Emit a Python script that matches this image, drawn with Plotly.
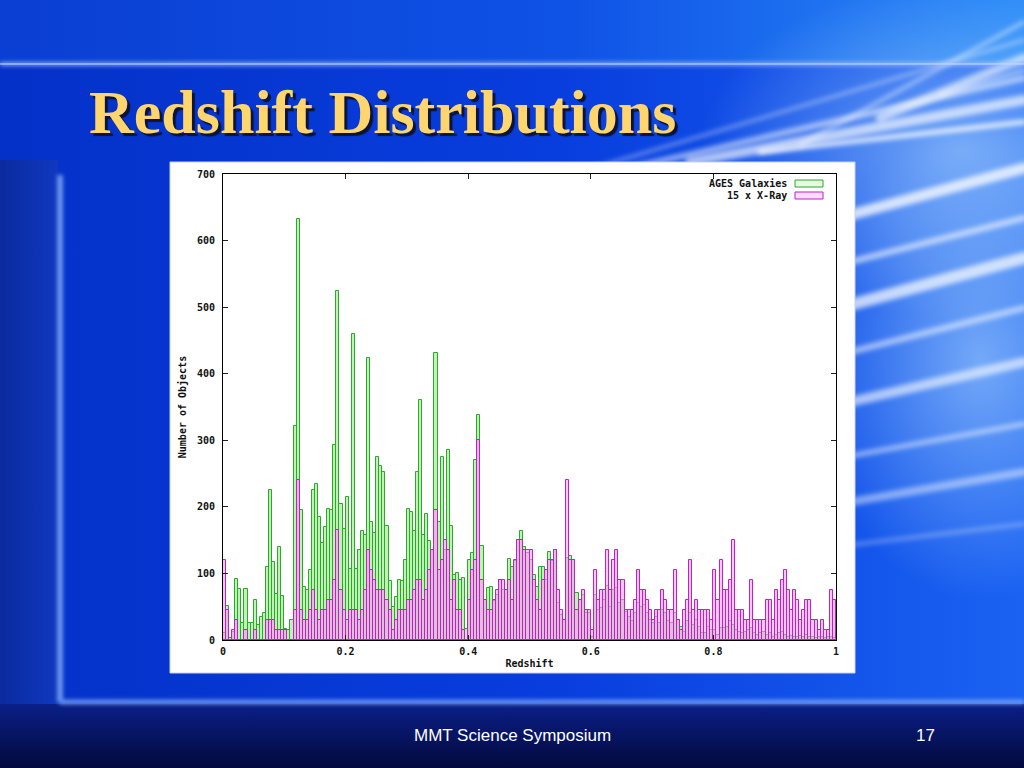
import base64
import plotly.graph_objects as go

# ---------------- data ----------------
BIN_WIDTH = 0.005

ages_galaxies = [
    10, 51, 3, 12, 91, 76, 25, 76, 25, 25,
    60, 23, 35, 41, 110, 226, 117, 69, 139, 66,
    17, 15, 30, 322, 632, 196, 80, 75, 105, 225,
    235, 185, 145, 170, 197, 195, 293, 525, 205, 166,
    215, 107, 460, 107, 135, 163, 158, 423, 178, 160,
    275, 262, 252, 172, 88, 50, 65, 90, 88, 120,
    197, 192, 163, 253, 360, 158, 189, 148, 135, 431,
    178, 275, 135, 286, 172, 98, 100, 90, 93, 17,
    120, 130, 270, 338, 141, 60, 78, 80, 58, 68,
    90, 75, 75, 121, 110, 118, 150, 163, 140, 130,
    120, 98, 80, 109, 109, 90, 132, 118, 135, 55,
    38, 30, 123, 126, 120, 70, 60, 68, 40, 40,
    5, 68, 45, 48, 60, 81, 50, 75, 78, 55,
    60, 42, 35, 28, 40, 55, 50, 52, 40, 30,
    25, 35, 25, 45, 40, 28, 25, 40, 30, 20,
    12, 28, 40, 22, 30, 20, 11, 10, 20, 15,
    15, 8, 18, 18, 20, 28, 22, 15, 12, 10,
    12, 15, 18, 10, 8, 10, 12, 8, 10, 5,
    8, 10, 12, 8, 5, 6, 4, 5, 6, 5,
    8, 4, 5, 3, 5, 4, 3, 5, 4, 3,
]

xray_x15 = [
    120, 45, 0, 15, 30, 0, 0, 15, 0, 0,
    15, 0, 0, 0, 30, 30, 30, 15, 15, 15,
    15, 0, 0, 45, 240, 45, 30, 30, 45, 75,
    45, 30, 45, 45, 60, 60, 90, 165, 75, 45,
    30, 45, 45, 45, 30, 45, 75, 135, 105, 90,
    75, 75, 75, 60, 45, 15, 30, 45, 45, 45,
    60, 60, 75, 90, 90, 60, 75, 105, 135, 195,
    105, 120, 150, 135, 60, 90, 45, 45, 15, 0,
    60, 105, 120, 300, 90, 60, 45, 45, 60, 75,
    90, 90, 75, 90, 60, 120, 150, 150, 135, 135,
    135, 90, 60, 45, 90, 105, 120, 120, 135, 75,
    45, 30, 240, 120, 120, 45, 60, 75, 45, 45,
    15, 105, 60, 75, 75, 135, 75, 120, 135, 90,
    90, 45, 45, 45, 60, 105, 75, 75, 60, 45,
    30, 45, 45, 75, 60, 45, 45, 105, 30, 15,
    45, 60, 120, 45, 60, 45, 45, 45, 45, 30,
    105, 60, 120, 75, 75, 90, 150, 45, 45, 45,
    30, 30, 90, 30, 30, 30, 30, 60, 60, 30,
    75, 60, 90, 105, 75, 45, 75, 60, 30, 45,
    60, 60, 30, 30, 15, 30, 15, 15, 75, 60,
]

x_tick_vals = [0, 0.2, 0.4, 0.6, 0.8, 1.0]
x_tick_text = ["0", "0.2", "0.4", "0.6", "0.8", "1"]
y_tick_vals = [0, 100, 200, 300, 400, 500, 600, 700]

series_names = ["AGES Galaxies", "15 x X-Ray"]
slide_title = "Redshift Distributions"
footer_text = "MMT Science Symposium"
slide_number = "17"

bin_left = [i * BIN_WIDTH for i in range(len(ages_galaxies))]

# ---------------- layout helpers ----------------
W, H = 1024, 768


def px(x):
    return x / W


def py(y):
    return 1 - y / H


# ---------------- slide background (SVG image) ----------------
streaks = [
    (560, 178, 1024, 40, 3, 0.45),
    (630, 168, 1024, 78, 6, 0.55),
    (690, 162, 1024, 100, 10, 0.65),
    (760, 152, 1024, 122, 5, 0.8),
    (800, 145, 1024, 22, 4, 0.45),
    (880, 118, 1024, 58, 9, 0.6),
    (940, 95, 1024, 70, 4, 0.5),
    (850, 215, 1024, 168, 11, 0.75),
    (850, 262, 1024, 218, 6, 0.6),
    (850, 305, 1024, 258, 12, 0.7),
    (850, 352, 1024, 308, 6, 0.55),
    (850, 402, 1024, 362, 10, 0.6),
    (850, 456, 1024, 424, 5, 0.5),
    (850, 502, 1024, 472, 8, 0.45),
    (850, 545, 1024, 524, 4, 0.3),
]
streak_svg = "".join(
    f'<line x1="{a}" y1="{b}" x2="{c}" y2="{d}" stroke="white" stroke-width="{w}" '
    f'stroke-opacity="{o}" stroke-linecap="round" filter="url(#bl)"/>'
    for a, b, c, d, w, o in streaks
)
svg = f'''<svg xmlns="http://www.w3.org/2000/svg" width="1024" height="768" viewBox="0 0 1024 768">
<defs>
<linearGradient id="main" x1="0" y1="0" x2="1" y2="0">
<stop offset="0" stop-color="#0431c8"/><stop offset="0.55" stop-color="#083ede"/><stop offset="1" stop-color="#1a62f2"/>
</linearGradient>
<linearGradient id="top" x1="0" y1="0" x2="1" y2="0">
<stop offset="0" stop-color="#0b3ed2"/><stop offset="0.55" stop-color="#0f52e6"/><stop offset="1" stop-color="#2a8af8"/>
</linearGradient>
<linearGradient id="bot" x1="0" y1="0" x2="0" y2="1">
<stop offset="0" stop-color="#0a1f88"/><stop offset="1" stop-color="#03093c"/>
</linearGradient>
<linearGradient id="left" x1="0" y1="0" x2="1" y2="0">
<stop offset="0" stop-color="#0a2a9e"/><stop offset="1" stop-color="#1038c0"/>
</linearGradient>
<radialGradient id="glow" cx="0.5" cy="0.5" r="0.5">
<stop offset="0" stop-color="#bfe6ff" stop-opacity="0.55"/><stop offset="1" stop-color="#bfe6ff" stop-opacity="0"/>
</radialGradient>
<filter id="bl" filterUnits="userSpaceOnUse" x="0" y="0" width="1024" height="768"><feGaussianBlur stdDeviation="2.5"/></filter>
<filter id="bl2" filterUnits="userSpaceOnUse" x="0" y="0" width="1024" height="768"><feGaussianBlur stdDeviation="2"/></filter>
</defs>
<rect width="1024" height="768" fill="url(#main)"/>
<rect width="1024" height="64" fill="url(#top)"/>
<rect x="0" y="160" width="58" height="545" fill="url(#left)"/>
<rect x="0" y="704" width="1024" height="64" fill="url(#bot)"/>
<ellipse cx="960" cy="150" rx="260" ry="170" fill="url(#glow)"/>
<ellipse cx="980" cy="360" rx="170" ry="240" fill="url(#glow)"/>
{streak_svg}
<line x1="0" y1="64" x2="1024" y2="64" stroke="#9fc0ff" stroke-width="3" filter="url(#bl2)"/>
<line x1="0" y1="64" x2="1024" y2="64" stroke="#c8dcff" stroke-width="1"/>
<line x1="60" y1="175" x2="60" y2="702" stroke="#7fa8f4" stroke-width="5" filter="url(#bl2)"/>
<line x1="60" y1="702" x2="1024" y2="702" stroke="#7aa4f4" stroke-width="4" filter="url(#bl2)"/>
</svg>'''
bg_uri = "data:image/svg+xml;base64," + base64.b64encode(svg.encode("utf-8")).decode("ascii")

# ---------------- figure ----------------
mono = "DejaVu Sans Mono"
fig = go.Figure()

fig.add_trace(go.Bar(
    x=bin_left, y=ages_galaxies, width=BIN_WIDTH, offset=0,
    name=series_names[0], showlegend=False,
    marker=dict(color="rgba(185,242,175,0.95)", line=dict(color="#2ca82c", width=1)),
))
fig.add_trace(go.Bar(
    x=bin_left, y=xray_x15, width=BIN_WIDTH, offset=0,
    name=series_names[1], showlegend=False,
    marker=dict(color="rgba(240,160,240,0.6)", line=dict(color="#c21fc8", width=1)),
))

axis_font = dict(family=mono, size=10, color="#111111", weight="bold")

fig.update_layout(
    width=W, height=H,
    margin=dict(l=0, r=0, t=0, b=0),
    paper_bgcolor="#0a3ad6",
    plot_bgcolor="white",
    barmode="overlay",
    bargap=0,
    showlegend=False,
    xaxis=dict(
        domain=[px(223), px(836)], range=[0, 1],
        tickvals=x_tick_vals, ticktext=x_tick_text,
        ticks="inside", ticklen=5, tickcolor="#222", tickwidth=1,
        showline=True, linecolor="black", linewidth=1, mirror="ticks",
        showgrid=False, zeroline=False, tickfont=axis_font,
        ticklabelstandoff=2, automargin=False,
        title=dict(text="Redshift", font=axis_font, standoff=3),
    ),
    yaxis=dict(
        domain=[py(640), py(174)], range=[0, 700],
        tickvals=y_tick_vals,
        ticks="inside", ticklen=5, tickcolor="#222", tickwidth=1,
        showline=True, linecolor="black", linewidth=1, mirror="ticks",
        showgrid=False, zeroline=False, tickfont=axis_font,
        ticklabelstandoff=5, automargin=False,
        title=dict(text="Number of Objects", font=axis_font, standoff=8),
    ),
    images=[dict(source=bg_uri, xref="paper", yref="paper", x=0, y=1,
                 sizex=1, sizey=1, sizing="stretch", xanchor="left",
                 yanchor="top", layer="below")],
)

# white picture panel of the chart
fig.add_shape(type="rect", xref="paper", yref="paper",
              x0=px(170), x1=px(855), y0=py(673), y1=py(162),
              fillcolor="white", line=dict(color="#c8d0e8", width=1), layer="below")

# legend (gnuplot style: text then key box)
legend_rows = [(183.5, "#2ca82c", "rgba(185,242,175,0.35)"), (195.5, "#c21fc8", "rgba(240,160,240,0.35)")]
for name, (yy, lc, fc) in zip(series_names, legend_rows):
    fig.add_annotation(xref="paper", yref="paper", x=px(789), y=py(yy),
                       xanchor="right", yanchor="middle", showarrow=False,
                       text=name, font=axis_font)
    fig.add_shape(type="rect", xref="paper", yref="paper",
                  x0=px(795), x1=px(823), y0=py(yy + 3.5), y1=py(yy - 3.5),
                  line=dict(color=lc, width=1), fillcolor=fc)

# slide title (with drop shadow)
fig.add_annotation(xref="paper", yref="paper", x=px(87), y=py(112),
                   xanchor="left", yanchor="middle", showarrow=False,
                   text=slide_title,
                   font=dict(family="Liberation Serif", size=62, color="#FFD56E",
                             weight="bold", shadow="3px 3px 1px #0c1436"))

# footer
fig.add_annotation(xref="paper", yref="paper", x=px(512), y=py(735),
                   xanchor="center", yanchor="middle", showarrow=False,
                   text=footer_text,
                   font=dict(family="Liberation Sans", size=17, color="white"))
fig.add_annotation(xref="paper", yref="paper", x=px(925), y=py(735),
                   xanchor="center", yanchor="middle", showarrow=False,
                   text=slide_number,
                   font=dict(family="Liberation Sans", size=17, color="white"))

fig.write_html("out.html",
               config={"displayModeBar": False},
               post_script="document.body.style.margin='0';document.body.style.overflow='hidden';")
